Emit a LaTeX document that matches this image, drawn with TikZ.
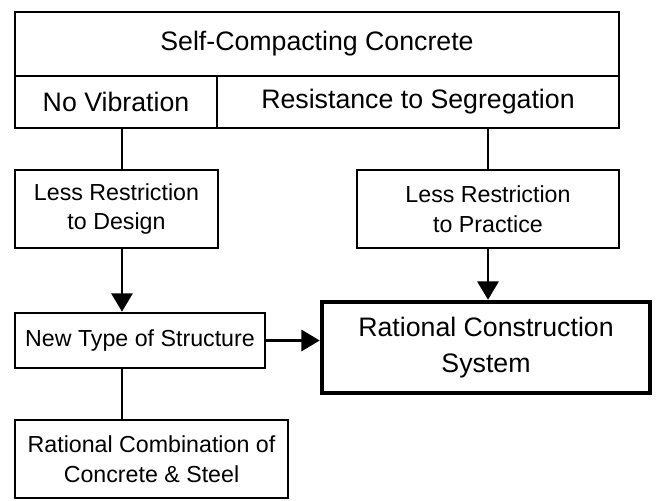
\documentclass[tikz,border=0pt]{standalone}
\usepackage{fontspec}
\setmainfont{Liberation Sans}
\usetikzlibrary{arrows.meta}
\begin{document}
\begin{tikzpicture}[x=0.025cm, y=-0.025cm,
        box/.style={draw, line width=1.9pt, align=center, inner sep=0pt, font=\fontsize{16.5}{21}\selectfont},
        bigbox/.style={box, font=\fontsize{19}{26}\selectfont},
        link/.style={line width=1.9pt},
        arrow/.style={line width=1.9pt, -{Triangle[length=13pt, width=15pt]}}]
        \useasboundingbox (0,0) rectangle (657,500);

        % header block
        \node (scc) at (317,44)[bigbox, minimum width=15.1cm, minimum height=1.6cm]{Self-Compacting Concrete};
        \node (novib) at (116,102)[bigbox, minimum width=5.05cm, minimum height=1.3cm]{No Vibration};
        \node (resist) at (418,102)[bigbox, minimum width=10.05cm, minimum height=1.3cm]{Resistance to Segregation};

        \node (design) at (116.5,209)[box, minimum width=5.075cm, minimum height=1.95cm]{Less Restriction\\to Design};
        \node (practice) at (488,209)[box, minimum width=6.55cm, minimum height=1.95cm]{Less Restriction\\to Practice};
        \node (newtype) at (140,340.5)[box, minimum width=6.25cm, minimum height=1.375cm]{New Type of Structure};
        \node (rational) at (486,347.5)[bigbox, line width=3.2pt, minimum width=8.2cm, minimum height=2.275cm]{Rational Construction\\System};
        \node (combo) at (151.5,459)[box, minimum width=6.825cm, minimum height=1.95cm]{Rational Combination of\\Concrete \& Steel};

        \coordinate (lane) at (122,0);
        \draw[link] (lane |- novib.south) -- (lane |- design.north);
        \draw[arrow] (lane |- design.south) -- (lane |- newtype.north);
        \draw[link] (lane |- newtype.south) -- (lane |- combo.north);
        \draw[link] (practice.north |- resist.south) -- (practice.north);
        \draw[arrow] (practice.south) -- (practice.south |- rational.north);
        \draw[arrow] (newtype.east) -- (newtype.east -| rational.west);
    \end{tikzpicture}
\end{document}
